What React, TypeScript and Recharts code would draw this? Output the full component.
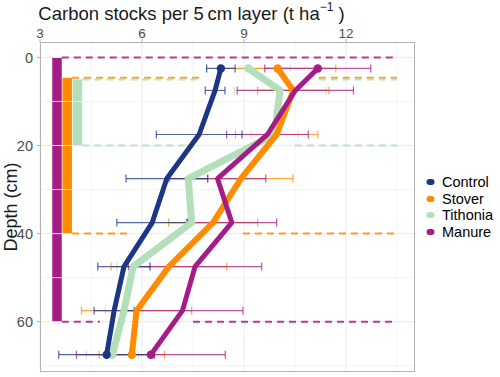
import React from 'react';
import {
  ScatterChart,
  Scatter,
  XAxis,
  YAxis,
  ErrorBar,
  ReferenceLine,
  ReferenceArea,
} from 'recharts';

// Depth midpoints of each 5 cm layer (cm)
const depths = [2.5, 7.5, 17.5, 27.5, 37.5, 47.5, 57.5, 67.5];

// Carbon stocks (t/ha) and error per treatment
const controlMean = [8.32, 8.15, 7.68, 6.73, 6.3, 5.47, 5.18, 4.96];
const controlErr = [0.42, 0.29, 1.26, 1.2, 1.04, 0.77, 0.59, 1.41];
const stoverMean = [9.99, 10.45, 9.96, 8.91, 8.09, 6.79, 5.84, 5.7];
const stoverErr = [1.71, 1.05, 1.21, 1.53, 1.31, 1.7, 1.62, 0.96];
const tithoniaMean = [9.13, 10.06, 9.9, 7.36, 7.46, 5.74, 5.47, 5.13];
const tithoniaErr = [1.23, 1.35, 0.69, 0.59, 1.13, 0.48, 0.55, 0.77];
const manureMean = [11.17, 10.51, 9.69, 8.22, 8.64, 7.56, 7.19, 6.26];
const manureErr = [1.56, 1.71, 1.2, 1.42, 1.32, 1.96, 1.78, 2.19];

// Layers where amendments were incorporated (cm)
const layerTreatments = ['Manure', 'Stover', 'Tithonia'];
const layerTop = [0, 5, 5];
const layerBottom = [60, 40, 20];

// Dashed layer boundaries and the stretch each one skips
const boundaryTreatment = ['Manure', 'Manure', 'Stover', 'Stover', 'Tithonia', 'Tithonia'];
const boundaryDepth = [0, 60, 5, 40, 5, 20];
const boundaryGapFrom = [null, 4.76, 7.7, 5.6, 7.7, 7.4];
const boundaryGapTo = [null, 7.5, 11.2, 8.97, 11.2, 10.5];

const xTicks = [3, 6, 9, 12];
const xMinor = [4.5, 7.5, 10.5, 13.5];
const yTicks = [0, 20, 40, 60];
const yMinor = [10, 30, 50, 70];

const COLORS: Record<string, string> = {
  Control: '#1D3585',
  Stover: '#FF8C00',
  Tithonia: '#B3DFBA',
  Manure: '#A51C87',
};
const LINE_WIDTH: Record<string, number> = {
  Control: 5,
  Stover: 6,
  Tithonia: 7,
  Manure: 5,
};

const toRows = (mean: number[], err: number[]) =>
  depths.map((d, i) => ({ x: mean[i], y: d, err: err[i] }));

const series = [
  { name: 'Tithonia', data: toRows(tithoniaMean, tithoniaErr) },
  { name: 'Stover', data: toRows(stoverMean, stoverErr) },
  { name: 'Manure', data: toRows(manureMean, manureErr) },
  { name: 'Control', data: toRows(controlMean, controlErr) },
];
const legendOrder = ['Control', 'Stover', 'Tithonia', 'Manure'];

const BAR_START = 3.36;
const BAR_STEP = 0.3;
const BAR_WIDTH = 0.28;
const DASH_END = 13.5;

const App: React.FC = () => {
  const endDot = (color: string) => (props: any) => {
    const { cx, cy, payload } = props;
    if (payload.y === depths[0] || payload.y === depths[depths.length - 1]) {
      return <circle cx={cx} cy={cy} r={4.2} fill={color} />;
    }
    return <g />;
  };

  return (
    <div
      style={{
        position: 'absolute',
        left: 0,
        top: 0,
        width: 500,
        height: 377,
        background: '#fff',
        fontFamily: '"Liberation Sans", Arial, sans-serif',
      }}
    >
      <ScatterChart width={500} height={377} margin={{ top: 0, right: 86, bottom: 6, left: 0 }}>
        <XAxis
          type="number"
          dataKey="x"
          orientation="top"
          height={42}
          domain={[3, 14]}
          ticks={xTicks}
          allowDataOverflow
          axisLine={false}
          tickLine={{ stroke: '#B3B3B3' }}
          tickSize={3}
          tickMargin={1}
          tick={{ fill: '#4D4D4D', fontSize: 13.5 }}
        />
        <YAxis
          type="number"
          dataKey="y"
          width={40}
          domain={[-3.5, 71.2]}
          reversed
          ticks={yTicks}
          allowDataOverflow
          axisLine={false}
          tickLine={{ stroke: '#B3B3B3' }}
          tickSize={3}
          tickMargin={4}
          tick={{ fill: '#4D4D4D', fontSize: 14.5 }}
        />

        {/* grid */}
        {yMinor.map((v) => (
          <ReferenceLine key={`ym${v}`} y={v} stroke="#F3F3F3" strokeWidth={0.8} />
        ))}
        {xMinor.map((v) => (
          <ReferenceLine key={`xm${v}`} x={v} stroke="#F3F3F3" strokeWidth={0.8} />
        ))}
        {yTicks.map((v) => (
          <ReferenceLine key={`y${v}`} y={v} stroke="#EBEBEB" strokeWidth={1} />
        ))}
        {xTicks.map((v) => (
          <ReferenceLine key={`x${v}`} x={v} stroke="#EBEBEB" strokeWidth={1} />
        ))}

        {/* amendment layers */}
        {layerTreatments.map((t, i) => (
          <ReferenceArea
            key={`bar${t}`}
            x1={BAR_START + i * BAR_STEP}
            x2={BAR_START + i * BAR_STEP + BAR_WIDTH}
            y1={layerTop[i] - (t === 'Stover' ? 0.4 : 0)}
            y2={layerBottom[i]}
            fill={COLORS[t]}
            fillOpacity={1}
            stroke="none"
          />
        ))}
        {boundaryDepth.map((d, i) => {
          const t = boundaryTreatment[i];
          const start = BAR_START + layerTreatments.indexOf(t) * BAR_STEP + BAR_WIDTH;
          const y = d - (t === 'Stover' && d === 5 ? 0.4 : 0);
          const from = boundaryGapFrom[i];
          const to = boundaryGapTo[i];
          const spans: [number, number][] =
            from === null || to === null ? [[start, DASH_END]] : [[start, from], [to, DASH_END]];
          return spans.map((s, j) => (
            <ReferenceLine
              key={`dash${i}-${j}`}
              segment={[
                { x: s[0], y },
                { x: s[1], y },
              ]}
              stroke={COLORS[t]}
              strokeOpacity={0.85}
              strokeWidth={2}
              strokeDasharray="7 5"
            />
          ));
        })}

        {series.map((s) => (
          <Scatter
            key={s.name}
            name={s.name}
            data={s.data}
            fill={COLORS[s.name]}
            line={{
              stroke: COLORS[s.name],
              strokeWidth: LINE_WIDTH[s.name],
              strokeLinejoin: 'round',
              strokeLinecap: 'round',
            }}
            lineType="joint"
            shape={endDot(COLORS[s.name])}
            isAnimationActive={false}
          >
            <ErrorBar
              dataKey="err"
              direction="x"
              width={4}
              stroke={COLORS[s.name]}
              strokeOpacity={0.75}
              strokeWidth={1.2}
              isAnimationActive={false}
            />
          </Scatter>
        ))}
      </ScatterChart>

      {/* panel border */}
      <div
        style={{
          position: 'absolute',
          left: 40,
          top: 42,
          width: 373,
          height: 328,
          border: '1px solid #B3B3B3',
          pointerEvents: 'none',
        }}
      />

      {/* x axis title */}
      <div
        style={{
          position: 'absolute',
          left: 0,
          top: 3,
          width: 383,
          textAlign: 'center',
          fontSize: 18.5,
          color: '#1A1A1A',
          whiteSpace: 'nowrap',
        }}
      >
        Carbon stocks per 5{'\u2009'}cm layer (t ha
        <sup style={{ fontSize: 12, verticalAlign: 'top', position: 'relative', top: -3 }}>−1</sup> )
      </div>

      {/* y axis title */}
      <div
        style={{
          position: 'absolute',
          left: 11,
          top: 207,
          transform: 'translate(-50%, -50%) rotate(-90deg)',
          fontSize: 18,
          color: '#1A1A1A',
          whiteSpace: 'nowrap',
        }}
      >
        Depth (cm)
      </div>

      {/* legend */}
      <div style={{ position: 'absolute', left: 425, top: 174 }}>
        {legendOrder.map((name) => (
          <div
            key={name}
            style={{
              display: 'flex',
              alignItems: 'center',
              height: 16.5,
              fontSize: 14.5,
              color: '#000',
            }}
          >
            <svg width={12} height={10} style={{ marginRight: 5 }}>
              <rect x={1.5} y={2} width={8} height={6} rx={3} fill={COLORS[name]} />
            </svg>
            <span style={{ lineHeight: '16.5px' }}>{name}</span>
          </div>
        ))}
      </div>
    </div>
  );
};

export default App;
